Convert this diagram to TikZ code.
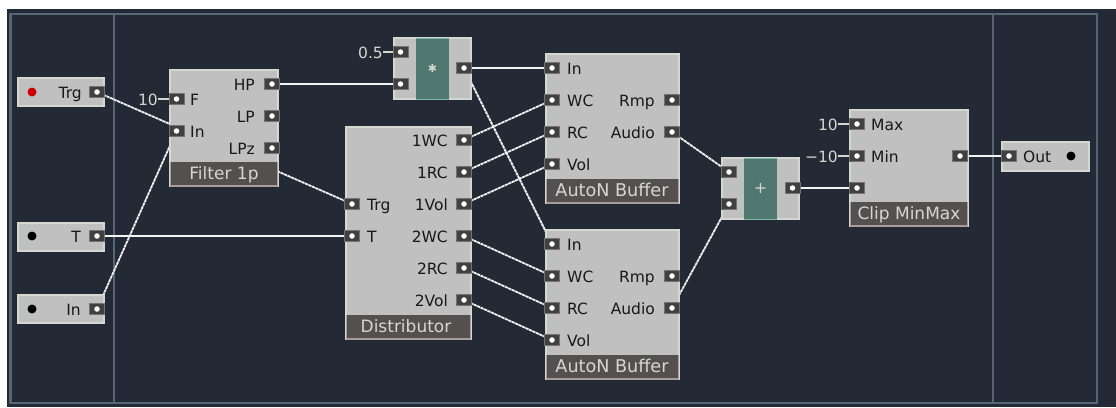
\documentclass[tikz,border=0pt]{standalone}
\usepackage{fontspec}
\setmainfont{DejaVu Sans}
\definecolor{bgd}{HTML}{232935}
\definecolor{frm}{HTML}{566673}
\definecolor{modg}{HTML}{C0C0C0}
\definecolor{modl}{HTML}{D4D8D0}
\definecolor{ttl}{HTML}{555050}
\definecolor{ttlb}{HTML}{A89E96}
\definecolor{teal}{HTML}{507870}
\definecolor{teall}{HTML}{78B8A8}
\definecolor{lbl}{HTML}{181818}
\definecolor{wirec}{HTML}{F4F4F4}
\pgfdeclarelayer{back}
\pgfdeclarelayer{wires}
\pgfsetlayers{back,wires,main}
\tikzset{
  x=1pt,y=-1pt,
  panel/.style={fill=modg,draw=modl,line width=1.5pt},
  titlebar/.style={fill=ttl},
  titleedge/.style={draw=ttlb,line width=1.5pt},
  portbox/.style={fill=black!75,draw=black!55,line width=0.6pt,minimum width=15pt,minimum height=11pt,inner sep=0pt},
  portdot/.style={circle,fill=white,inner sep=0pt,minimum size=5.5pt},
  wire/.style={draw=wirec,line width=1.7pt},
  dwire/.style={draw=wirec,line width=1.8pt,dash pattern=on 3.2pt off 0.6pt},
  thinw/.style={draw=modl,line width=1.2pt},
  lab/.style={font=\fontsize{15.5}{15.5}\selectfont,text=lbl,inner sep=0pt},
  light/.style={font=\fontsize{15.5}{15.5}\selectfont,text=modl,inner sep=0pt},
  ttext/.style={font=\fontsize{17}{17}\selectfont,text=modl,inner sep=0pt,anchor=base},
  ttextw/.style={font=\fontsize{17.6}{17.6}\selectfont,text=modl,inner sep=0pt,anchor=base},
  led/.style={circle,fill=black,inner sep=0pt,minimum size=9pt},
}
\newcommand{\port}[2]{%
  \node[portbox] (#1b) at (#2) {};
  \node[portdot] (#1) at (#2) {};
}
\newcommand{\titlebox}[4]{%
  \fill[titlebar] (#1,#2) rectangle (#3,#4);
  \draw[titleedge] (#1,#2) -- (#1,#4) -- (#3,#4) -- (#3,#2);
}
\begin{document}
\begin{tikzpicture}
\useasboundingbox (0,0) rectangle (1116,407);
\begin{pgfonlayer}{back}
\fill[white] (0,0) rectangle (1116,407);
\fill[bgd] (7,9) rectangle (1116,407);
\draw[frm,line width=2.5pt] (10.5,14) rectangle (1097,403);
\draw[frm,line width=2.5pt] (114,14) -- (114,403);
\draw[frm,line width=2.5pt] (993,14) -- (993,403);
\end{pgfonlayer}
% inputs
\draw[panel] (18,78) rectangle (104,106);
\draw[panel] (18,223) rectangle (104,251);
\draw[panel] (18,295) rectangle (104,323);
\node[led,fill=red!80!black] (ledtrg) at (32,92) {};
\node[led] (ledt) at (32,236) {};
\node[led] (ledin) at (32,309) {};
\node[lab,anchor=base east] (ltrg) at (82,98) {Trg};
\node[lab,anchor=base east] (lt) at (81,242) {T};
\node[lab,anchor=base east] (lin) at (81,315) {In};
\port{trg}{97,92}
\port{tin}{97,236}
\port{inn}{97,309}
% Filter
\draw[panel] (170,70) rectangle (278,186);
\titlebox{170.5}{162}{277.5}{186}
\node[ttext] (tf) at (224,179) {Filter 1p};
\port{ff}{176.5,99}
\port{fin}{176.5,131}
\port{fhp}{272,84}
\port{flp}{272,116}
\port{flpz}{272,148}
\node[lab,anchor=base west] (lf) at (190,105) {F};
\node[lab,anchor=base west] (lfi) at (190,137) {In};
\node[lab,anchor=base east] (lhp) at (255,90) {HP};
\node[lab,anchor=base east] (llp) at (255,122) {LP};
\node[lab,anchor=base east] (llz) at (255,154) {LPz};
\node[light,anchor=base east] (c10) at (158,105) {10};
% Multiply
\draw[panel] (394,38) rectangle (471,99);
\fill[teal] (416,38) rectangle (449,99);
\draw[teall,line width=1pt] (416,38) -- (449,38) (416,99) -- (449,99);
\node[font=\fontsize{11}{11}\selectfont,text=modl,inner sep=0pt] (mul) at (432.5,68.5) {✱};
\port{mc}{400.5,52}
\port{mi}{400.5,84}
\port{mo}{464,68}
\node[light,anchor=base east] (c05) at (383,58) {0.5};
% Distributor
\draw[panel] (346,127) rectangle (471,339);
\titlebox{346.5}{315}{470.5}{339}
\node[ttext] (td) at (406,332) {Distributor};
\port{dtrg}{352,204}
\port{dt}{352,236}
\foreach \n/\t/\y in {a/1WC/140,b/1RC/172,c/1Vol/204,d/2WC/236,e/2RC/268,f/2Vol/300}{
  \port{d\n}{464,\y}
  \node[lab,anchor=base east] (l\n) at (448,\y+6) {\t};
}
\node[lab,anchor=base west] (ltr) at (367,210) {Trg};
\node[lab,anchor=base west] (ltt) at (367,242) {T};
% Buffer 1
\draw[panel] (546,54) rectangle (679,203);
\titlebox{546.5}{179}{678.5}{203}
\node[ttextw] (tb1) at (612,196) {AutoN Buffer};
\port{ain}{552,68}
\port{awc}{552,100}
\port{arc}{552,132}
\port{avol}{552,164}
\port{armp}{672,100}
\port{aaud}{672,132}
\node[lab,anchor=base west] (a1) at (567,74) {In};
\node[lab,anchor=base west] (a2) at (567,106) {WC};
\node[lab,anchor=base west] (a3) at (567,138) {RC};
\node[lab,anchor=base west] (a4) at (567,170) {Vol};
\node[lab,anchor=base east] (a5) at (655,106) {Rmp};
\node[lab,anchor=base east] (a6) at (655,138) {Audio};
% Buffer 2
\draw[panel] (546,230) rectangle (679,379);
\titlebox{546.5}{355}{678.5}{379}
\node[ttextw] (tb2) at (612,372) {AutoN Buffer};
\port{bin}{552,244}
\port{bwc}{552,276}
\port{brc}{552,308}
\port{bvol}{552,340}
\port{brmp}{672,276}
\port{baud}{672,308}
\node[lab,anchor=base west] (b1) at (567,250) {In};
\node[lab,anchor=base west] (b2) at (567,282) {WC};
\node[lab,anchor=base west] (b3) at (567,314) {RC};
\node[lab,anchor=base west] (b4) at (567,346) {Vol};
\node[lab,anchor=base east] (b5) at (655,282) {Rmp};
\node[lab,anchor=base east] (b6) at (655,314) {Audio};
% Add
\draw[panel] (722,158) rectangle (799,219);
\fill[teal] (744,158) rectangle (777,219);
\draw[teall,line width=1pt] (744,158) -- (777,158) (744,219) -- (777,219);
\node[font=\fontsize{16}{16}\selectfont,text=modl,inner sep=0pt] (plus) at (760.5,188) {+};
\port{pa}{729,172}
\port{pb}{729,204}
\port{po}{792.5,188}
% Clip
\draw[panel] (850,110) rectangle (968,226);
\titlebox{850.5}{202}{967.5}{226}
\node[ttext] (tc) at (909,219) {Clip MinMax};
\port{cmax}{857,124}
\port{cmin}{857,156}
\port{cin}{857,188}
\port{cout}{960,156}
\node[lab,anchor=base west] (cl1) at (871,130) {Max};
\node[lab,anchor=base west] (cl2) at (871,162) {Min};
\node[light,anchor=base east] (c10b) at (838,130) {10};
\node[light,anchor=base east] (cm10) at (838,162) {−10};
% Out
\draw[panel] (1002,142) rectangle (1089,171);
\port{oin}{1009,156}
\node[lab,anchor=base west] (ol) at (1023,162) {Out};
\node[led] (ledo) at (1071,156) {};
% wires
\begin{pgfonlayer}{wires}
\draw[thinw] (c10.east |- ffb.west) -- (ffb.west);
\draw[thinw] (c05.east |- mcb.west) -- (mcb.west);
\draw[thinw] (c10b.east |- cmaxb.west) -- (cmaxb.west);
\draw[thinw] (cm10.east |- cminb.west) -- (cminb.west);
\draw[dwire] (trg) -- (dtrg);
\draw[dwire] (inn) -- (fin);
\draw[wire] (tin) -- (dt);
\draw[wire] (fhp) -- (mi);
\draw[wire] (mo) -- (ain);
\draw[dwire] (mo) -- (bin);
\draw[dwire] (da) -- (awc);
\draw[dwire] (db) -- (arc);
\draw[dwire] (dc) -- (avol);
\draw[dwire] (dd) -- (bwc);
\draw[dwire] (de) -- (brc);
\draw[dwire] (df) -- (bvol);
\draw[dwire] (aaud) -- (pa);
\draw[dwire] (baud) -- (pb);
\draw[wire] (po) -- (cin);
\draw[wire] (cout) -- (oin);
\end{pgfonlayer}
\end{tikzpicture}
\end{document}
